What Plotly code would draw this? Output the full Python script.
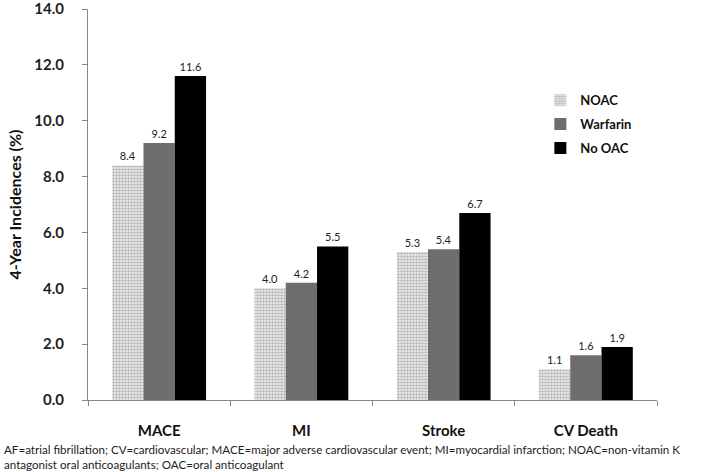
import plotly.graph_objects as go

categories = ["MACE", "MI", "Stroke", "CV Death"]
noac = [8.4, 4.0, 5.3, 1.1]
warfarin = [9.2, 4.2, 5.4, 1.6]
no_oac = [11.6, 5.5, 6.7, 1.9]
series_names = ["NOAC", "Warfarin", "No OAC"]
y_ticks = [0, 2, 4, 6, 8, 10, 12, 14]
footnote = ("AF=atrial fibrillation; CV=cardiovascular; MACE=major adverse cardiovascular event; "
            "MI=myocardial infarction; NOAC=non-vitamin K<br>antagonist oral anticoagulants; OAC=oral anticoagulant")

FONT = "Lato"

fig = go.Figure()
fig.add_trace(go.Bar(
    x=categories, y=noac, name=series_names[0],
    marker=dict(color="white",
                pattern=dict(shape=".", fgcolor="#7a7a7a", bgcolor="#f4f4f4", size=3, solidity=0.55),
                line=dict(width=0)),
    texttemplate="%{y:.1f}", textposition="outside", cliponaxis=False,
    textfont=dict(size=11, color="#222222", family=FONT),
    legendgroup="a",
))
fig.add_trace(go.Bar(
    x=categories, y=warfarin, name=series_names[1],
    marker=dict(color="#6e6e6e", line=dict(width=0)),
    texttemplate="%{y:.1f}", textposition="outside", cliponaxis=False,
    textfont=dict(size=11, color="#222222", family=FONT),
    legendgroup="b",
))
fig.add_trace(go.Bar(
    x=categories, y=no_oac, name=series_names[2],
    marker=dict(color="#000000", line=dict(width=0)),
    texttemplate="%{y:.1f}", textposition="outside", cliponaxis=False,
    textfont=dict(size=11, color="#222222", family=FONT),
    legendgroup="c",
))

fig.update_layout(
    width=709, height=472,
    margin=dict(l=88, r=52, t=9, b=72, autoexpand=False),
    paper_bgcolor="white", plot_bgcolor="white",
    barmode="group", bargap=0.34, bargroupgap=0,
    font=dict(family=FONT, color="#222222"),
    showlegend=True,
    legend=dict(x=0.795, y=0.805, xanchor="left", yanchor="top",
                font=dict(size=13, family=FONT, color="#111111", weight="bold"),
                bgcolor="rgba(0,0,0,0)", traceorder="grouped", tracegroupgap=4,
                itemwidth=30),
    xaxis=dict(
        automargin=False,
        showline=True, linecolor="#888888", linewidth=1,
        ticks="outside", tickson="boundaries", ticklen=5, tickcolor="#888888",
        ticklabelstandoff=17,
        tickfont=dict(size=15, family=FONT, color="#111111", weight="bold"),
        showgrid=False,
    ),
    yaxis=dict(
        automargin=False,
        range=[0, 14.0001], tickvals=y_ticks, tickformat=".1f",
        showline=True, linecolor="#888888", linewidth=1,
        ticks="outside", ticklen=5, tickcolor="#888888",
        ticklabelstandoff=15, ticklabeloverflow="allow",
        tickfont=dict(size=15, family=FONT, color="#222222", weight="bold"),
        showgrid=False, zeroline=False,
        title=dict(text="4-Year Incidences (%)", standoff=8,
                   font=dict(size=16, family=FONT, color="#111111", weight="bold")),
    ),
)

fig.add_annotation(
    text=footnote, xref="paper", yref="paper",
    x=-86/569, y=-41/391, xanchor="left", yanchor="top", align="left",
    showarrow=False, font=dict(size=11.6, family=FONT, color="#222222"),
)

fig.write_html("out.html", config={"displayModeBar": False},
               post_script="document.body.style.margin='0';document.body.style.overflow='hidden';")
